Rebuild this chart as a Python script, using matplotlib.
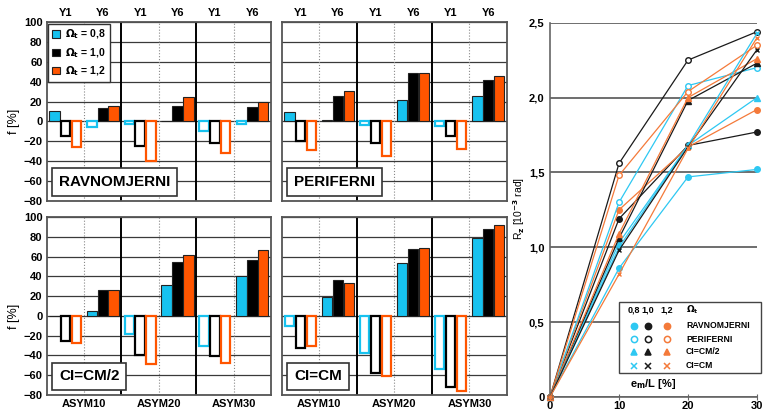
import matplotlib
matplotlib.use('Agg')
import matplotlib.pyplot as plt
from matplotlib.patches import Patch, Rectangle

plt.rcParams['font.family'] = ['Liberation Sans', 'DejaVu Sans']
plt.rcParams['font.weight'] = 'bold'
plt.rcParams['mathtext.default'] = 'bf'

# bar panels: order ASYM10 Y1, Y6, ASYM20 Y1, Y6, ASYM30 Y1, Y6
groups = ['ASYM10', 'ASYM20', 'ASYM30']
halves = ['Y1', 'Y6']
omega_labels = ['0,8', '1,0', '1,2']

ravn_08 = [11, -6, -3, 0, -10, -3]
ravn_10 = [-15, 14, -25, 16, -22, 15]
ravn_12 = [-26, 16, -40, 25, -32, 20]

peri_08 = [9, 1.5, -4, 22, -5, 26]
peri_10 = [-20, 26, -22, 49, -15, 42]
peri_12 = [-29, 31, -35, 49, -28, 46]

cm2_08 = [0, 5, -18, 31, -30, 40]
cm2_10 = [-25, 26, -40, 54, -41, 57]
cm2_12 = [-27, 26, -49, 62, -48, 67]

cm_08 = [-10, 19, -38, 53, -54, 79]
cm_10 = [-32, 36, -58, 68, -72, 88]
cm_12 = [-30, 33, -61, 69, -76, 92]

# line chart
em_L = [0, 10, 20, 30]
rz_ravn = [[0, 0.86, 1.47, 1.52], [0, 1.19, 1.68, 1.77], [0, 1.25, 1.67, 1.92]]
rz_peri = [[0, 1.30, 2.08, 2.20], [0, 1.56, 2.25, 2.44], [0, 1.48, 2.04, 2.35]]
rz_cm2 = [[0, 1.03, 1.68, 2.00], [0, 1.06, 1.98, 2.23], [0, 1.09, 2.00, 2.26]]
rz_cm = [[0, 1.00, 1.68, 2.43], [0, 0.98, 1.67, 2.32], [0, 0.82, 1.66, 2.40]]
series_names = ['RAVNOMJERNI', 'PERIFERNI', 'CI=CM/2', 'CI=CM']

bar_colors = ['#17c2ef', '#000000', '#ff5500']
line_colors = ['#2ec8f2', '#1a1a1a', '#f47a3a']

fig = plt.figure(figsize=(7.63, 4.12), dpi=100)

W, H = 763, 412


def px_axes(x0, y0, x1, y1):
    return fig.add_axes([x0 / W, 1 - y1 / H, (x1 - x0) / W, (y1 - y0) / H])


def bar_panel(ax, vals, name, left, top, bottom):
    for k, v in enumerate(vals):
        for i, val in enumerate(v):
            x = i + 0.5 + (k - 1) * 0.29
            if val >= 0:
                ax.bar(x, val, 0.28, facecolor=bar_colors[k], edgecolor='#222', lw=0.8)
            else:
                ax.bar(x, val, 0.25, facecolor='white', edgecolor=bar_colors[k], lw=1.6)
    ax.set_xlim(0, 6)
    ax.set_ylim(-80, 100)
    ax.set_yticks(range(-80, 101, 20))
    ax.grid(axis='y', color='#3a3a3a', lw=0.9)
    ax.set_axisbelow(True)
    for g in [2, 4]:
        ax.axvline(g, color='k', lw=1.4)
    for d in [1, 3, 5]:
        ax.axvline(d, color='#888', lw=0.8, ls=':')
    for s in ax.spines.values():
        s.set_color('#555')
        s.set_linewidth(1.3)
    ax.tick_params(length=0, labelsize=8, pad=3)
    if left:
        ax.set_ylabel('f [%]', fontsize=9)
        ax.yaxis.set_label_coords(-0.12, 80 / 180)
    else:
        ax.set_yticklabels([])
    if bottom:
        ax.set_xticks([1, 3, 5])
        ax.set_xticklabels(groups, fontsize=8)
    else:
        ax.set_xticks([])
    if top:
        for i in range(6):
            ax.text(i + 0.5, 1.05, halves[i % 2], transform=ax.get_xaxis_transform(),
                    ha='center', va='center', fontsize=8)
    ax.text(0.055, 0.065, name, transform=ax.transAxes, fontsize=11, ha='left', va='bottom',
            bbox=dict(boxstyle='square,pad=0.45', fc='white', ec='#333', lw=1.2))


ax1 = px_axes(46.7, 22, 271, 201)
ax2 = px_axes(281.7, 22, 507, 201)
ax3 = px_axes(46.7, 217, 271, 395)
ax4 = px_axes(281.7, 217, 507, 395)

bar_panel(ax1, [ravn_08, ravn_10, ravn_12], 'RAVNOMJERNI', True, True, False)
bar_panel(ax2, [peri_08, peri_10, peri_12], 'PERIFERNI', False, True, False)
bar_panel(ax3, [cm2_08, cm2_10, cm2_12], 'CI=CM/2', True, False, True)
bar_panel(ax4, [cm_08, cm_10, cm_12], 'CI=CM', False, False, True)

handles = [Patch(facecolor=c, edgecolor='#222', lw=0.8) for c in bar_colors]
labels = [r'$\Omega_t$ = ' + o for o in omega_labels]
leg = ax1.legend(handles, labels, loc='upper left', fontsize=7.5, handlelength=0.7,
                 handleheight=0.7, handletextpad=0.5, borderaxespad=0.15, labelspacing=0.45,
                 fancybox=False, edgecolor='#333', framealpha=1)
leg.get_frame().set_linewidth(1.0)

# line chart
ax5 = px_axes(550, 22.7, 757, 397)
markers = [('o', True), ('o', False), ('^', True), ('x', True)]
all_series = [rz_ravn, rz_peri, rz_cm2, rz_cm]
for (m, filled), ser in zip(markers, all_series):
    for k, ys in enumerate(ser):
        c = line_colors[k]
        ax5.plot(em_L, ys, color=c, lw=0.9, marker=m, ms=4 if m != 'x' else 3.5,
                 mfc=c if filled else 'white', mec=c, mew=1.0, clip_on=False, zorder=3)
ax5.set_xlim(0, 30)
ax5.set_ylim(0, 2.5)
ax5.set_yticks([0, 0.5, 1.0, 1.5, 2.0, 2.5])
ax5.set_yticklabels(['0', '0,5', '1,0', '1,5', '2,0', '2,5'])
ax5.set_xticks([0, 10, 20, 30])
ax5.grid(axis='y', color='#555', lw=1.2)
ax5.set_axisbelow(True)
ax5.spines['right'].set_visible(False)
ax5.spines['top'].set_visible(False)
ax5.spines['left'].set_color('#666')
ax5.spines['bottom'].set_color('#666')
ax5.spines['left'].set_linewidth(1.2)
ax5.spines['bottom'].set_linewidth(1.2)
ax5.tick_params(axis='y', length=0, labelsize=8, pad=4)
ax5.tick_params(axis='x', length=4, direction='inout', labelsize=8, pad=1, color='#666')
ax5.set_ylabel(r'R$_z$ [10$^{-3}$ rad]', fontsize=7.5)
ax5.yaxis.set_label_coords(-0.11, 0.505)
ax5.text(15, 0.085, r'e$_m$/L [%]', ha='center', va='center', fontsize=8)

# legend for line chart
tr = ax5.transAxes
ax5.add_patch(Rectangle((0.333, 0.065), 0.685, 0.19, transform=tr, fc='white',
                        ec='#444', lw=1.0, clip_on=False, zorder=4))
col_x = [0.406, 0.474, 0.565]
row_y = [0.191, 0.154, 0.121, 0.084]
for k, o in enumerate(omega_labels):
    ax5.text(col_x[k], 0.232, o, transform=tr, ha='center', va='center', fontsize=6.5, zorder=5)
ax5.text(0.657, 0.232, r'$\Omega_t$', transform=tr, ha='left', va='center', fontsize=6.5, zorder=5)
for r, ((m, filled), name) in enumerate(zip(markers, series_names)):
    for k in range(3):
        c = line_colors[k]
        ax5.plot(col_x[k], row_y[r], transform=tr, marker=m, ms=4.5 if m != 'x' else 4,
                 mfc=c if filled else 'white', mec=c, mew=1.1, ls='none',
                 clip_on=False, zorder=5)
    ax5.text(0.657, row_y[r], name, transform=tr, ha='left', va='center', fontsize=6.2, zorder=5)

fig.savefig('out.png', dpi=100)
